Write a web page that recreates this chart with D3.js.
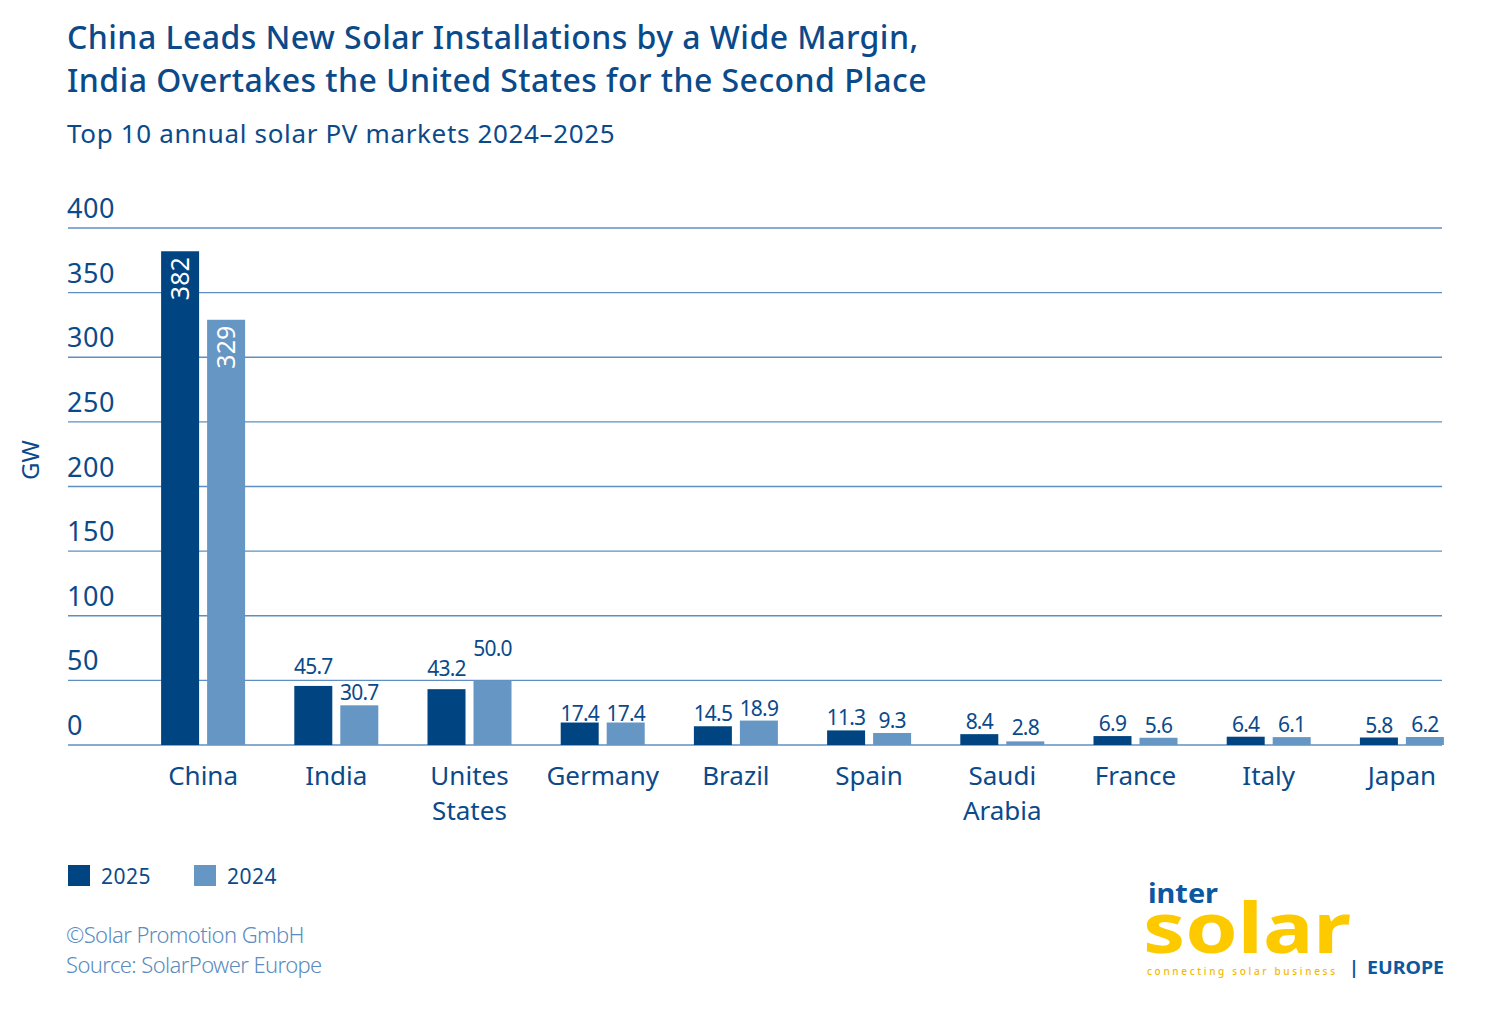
<!DOCTYPE html>
<html>
<head>
<meta charset="utf-8">
<script src="https://cdn.jsdelivr.net/npm/d3@7"></script>
<style>
  html, body { margin: 0; padding: 0; background: #fff; }
  svg { display: block; }
  text { font-family: "Noto Sans", Roboto, sans-serif; }
</style>
</head>
<body>
<svg id="chart" width="1500" height="1027"></svg>
<script>
const categories = ["China", "India", "Unites\nStates", "Germany", "Brazil", "Spain", "Saudi\nArabia", "France", "Italy", "Japan"];
const values2025 = [382, 45.7, 43.2, 17.4, 14.5, 11.3, 8.4, 6.9, 6.4, 5.8];
const values2024 = [329, 30.7, 50.0, 17.4, 18.9, 9.3, 2.8, 5.6, 6.1, 6.2];
const labels2025 = ["382", "45.7", "43.2", "17.4", "14.5", "11.3", "8.4", "6.9", "6.4", "5.8"];
const labels2024 = ["329", "30.7", "50.0", "17.4", "18.9", "9.3", "2.8", "5.6", "6.1", "6.2"];
const yTicks = [0, 50, 100, 150, 200, 250, 300, 350, 400];
const seriesNames = ["2025", "2024"];

// label gaps above the bar top (px), styling only
const labelGap2025 = [0, 11, 12, 1, 4, 4, 4, 4, 4, 4];
const labelGap2024 = [0, 4, 23, 1, 4, 4, 5, 4, 4, 4];

const C_DARK = "#004581";
const C_LIGHT = "#6596c4";
const C_TEXT = "#0b4a8a";
const C_GRID = "#5f8fc2";

const svg = d3.select("#chart");

// Title
svg.append("text").attr("x", 67).attr("y", 49).attr("fill", C_TEXT)
  .attr("font-size", 32).attr("font-weight", 500).attr("letter-spacing", 0.45)
  .text("China Leads New Solar Installations by a Wide Margin,");
svg.append("text").attr("x", 67).attr("y", 92).attr("fill", C_TEXT)
  .attr("font-size", 32).attr("font-weight", 500).attr("letter-spacing", 0.45)
  .text("India Overtakes the United States for the Second Place");
svg.append("text").attr("x", 67).attr("y", 143).attr("fill", C_TEXT)
  .attr("font-size", 26).attr("font-weight", 400).attr("letter-spacing", 0.65)
  .text("Top 10 annual solar PV markets 2024\u20132025");

const y = d3.scaleLinear().domain([0, 400]).range([745, 228]);
const x = d3.scaleBand().domain(categories).range([136.5, 1468.5]);
const barW = 38, gap = 8;

// Gridlines + tick labels
const g = svg.append("g");
g.selectAll("line.grid").data(yTicks).join("line")
  .attr("x1", 68).attr("x2", 1442)
  .attr("y1", d => y(d)).attr("y2", d => y(d))
  .attr("stroke", C_GRID).attr("stroke-width", 1.3);
g.selectAll("text.tick").data(yTicks).join("text")
  .attr("x", 67).attr("y", d => y(d) - 10)
  .attr("fill", C_TEXT).attr("font-size", 27).attr("letter-spacing", 0.6)
  .text(d => d);

// GW label
svg.append("text").attr("transform", "translate(39,460) rotate(-90)")
  .attr("text-anchor", "middle").attr("fill", C_TEXT).attr("font-size", 24)
  .text("GW");

// Bars
const data = categories.map((c, i) => ({c, i, v25: values2025[i], v24: values2024[i], l25: labels2025[i], l24: labels2024[i]}));
const cx = d => x(d.c) + x.bandwidth() / 2;

svg.selectAll("rect.b25").data(data).join("rect")
  .attr("x", d => cx(d) - gap / 2 - barW).attr("width", barW)
  .attr("y", d => y(d.v25)).attr("height", d => y(0) - y(d.v25))
  .attr("fill", C_DARK);
svg.selectAll("rect.b24").data(data).join("rect")
  .attr("x", d => cx(d) + gap / 2).attr("width", barW)
  .attr("y", d => y(d.v24)).attr("height", d => y(0) - y(d.v24))
  .attr("fill", C_LIGHT);

// Value labels
function addLabels(key, lab, dx, gaps) {
  data.forEach(d => {
    const v = d[key];
    const xc = cx(d) + dx;
    if (v > 200) {
      svg.append("text")
        .attr("transform", `translate(${xc + 9},${y(v) + 6}) rotate(-90)`)
        .attr("text-anchor", "end").attr("fill", "#fff").attr("font-size", 25)
        .text(d[lab]);
    } else {
      svg.append("text").attr("x", xc).attr("y", y(v) - gaps[d.i] - 1)
        .attr("text-anchor", "middle").attr("fill", C_TEXT)
        .attr("font-size", 21).attr("letter-spacing", -0.8)
        .text(d[lab]);
    }
  });
}
addLabels("v25", "l25", -gap / 2 - barW / 2, labelGap2025);
addLabels("v24", "l24", gap / 2 + barW / 2, labelGap2024);

// Category labels
data.forEach(d => {
  const lines = d.c.split("\n");
  lines.forEach((ln, j) => {
    svg.append("text").attr("x", cx(d)).attr("y", 785 + j * 35)
      .attr("text-anchor", "middle").attr("fill", C_TEXT).attr("font-size", 26)
      .text(ln);
  });
});

// Legend
const legendX = [68, 194];
seriesNames.forEach((s, i) => {
  svg.append("rect").attr("x", legendX[i]).attr("y", 865).attr("width", 22).attr("height", 21)
    .attr("fill", i === 0 ? C_DARK : C_LIGHT);
  svg.append("text").attr("x", legendX[i] + 33).attr("y", 884)
    .attr("fill", C_TEXT).attr("font-size", 21).attr("letter-spacing", 0.5).text(s);
});

// Footer
svg.append("text").attr("x", 66).attr("y", 943).attr("fill", "#5b8bc0")
  .attr("font-size", 22).attr("font-weight", 300).attr("letter-spacing", -0.6)
  .text("\u00A9Solar Promotion GmbH");
svg.append("text").attr("x", 66).attr("y", 973).attr("fill", "#5b8bc0")
  .attr("font-size", 22).attr("font-weight", 300).attr("letter-spacing", -0.6)
  .text("Source: SolarPower Europe");

// Logo
svg.append("text").attr("x", 1148).attr("y", 903).attr("fill", "#0d57a0")
  .attr("font-family", "Roboto, sans-serif")
  .attr("font-size", 27).attr("font-weight", 700).attr("textLength", 70)
  .attr("lengthAdjust", "spacingAndGlyphs").text("inter");
svg.append("text").attr("x", 1143).attr("y", 953).attr("fill", "#fdca00")
  .attr("font-family", "Roboto, sans-serif")
  .attr("font-size", 70).attr("font-weight", 700).attr("textLength", 208)
  .attr("lengthAdjust", "spacingAndGlyphs").text("solar");
svg.append("text").attr("x", 1147).attr("y", 975).attr("fill", "#f5b800")
  .attr("font-family", "Roboto, sans-serif")
  .attr("font-size", 10).attr("font-weight", 500).attr("textLength", 188)
  .attr("lengthAdjust", "spacing").text("connecting solar business");
svg.append("text").attr("x", 1349).attr("y", 974).attr("fill", "#0d57a0")
  .attr("font-family", "Roboto, sans-serif")
  .attr("font-size", 18).attr("font-weight", 700).text("|");
svg.append("text").attr("x", 1367).attr("y", 974).attr("fill", "#0d57a0")
  .attr("font-family", "Roboto, sans-serif")
  .attr("font-size", 18).attr("font-weight", 700).attr("textLength", 77)
  .attr("lengthAdjust", "spacingAndGlyphs").text("EUROPE");
</script>
</body>
</html>
